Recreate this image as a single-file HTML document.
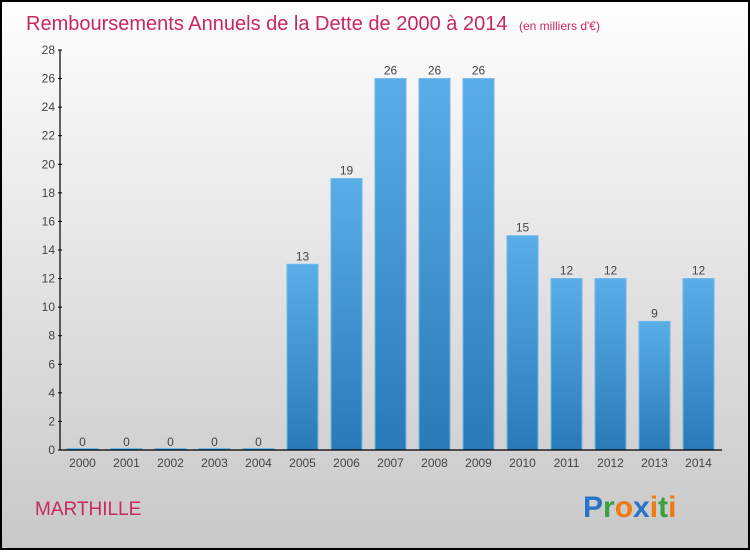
<!DOCTYPE html>
<html><head><meta charset="utf-8"><style>
body{margin:0;width:750px;height:550px;overflow:hidden;font-family:"Liberation Sans",sans-serif}
</style></head><body>
<svg width="750" height="550" xmlns="http://www.w3.org/2000/svg">
<defs>
<linearGradient id="bg" x1="0" y1="0" x2="0" y2="1"><stop offset="0" stop-color="#fefefe"/><stop offset="1" stop-color="#c8c8c8"/></linearGradient>
<linearGradient id="bar" x1="0" y1="0" x2="0" y2="1"><stop offset="0" stop-color="#5aade6"/><stop offset="1" stop-color="#2a7ab8"/></linearGradient>
</defs>
<rect x="1" y="1" width="748" height="548" fill="url(#bg)" stroke="#000" stroke-width="2"/>
<text x="26" y="30" font-size="20" fill="#c8285a">Remboursements Annuels de la Dette de 2000 à 2014 <tspan font-size="12" dx="6">(en milliers d'€)</tspan></text>
<g id="plot"></g>
<text x="35" y="515" font-size="19" fill="#c8285a">MARTHILLE</text>
<g font-size="30" font-weight="bold" font-family="'Liberation Sans',sans-serif">
<text x="583" y="517"><tspan fill="#2a74c8">P</tspan><tspan fill="#3aa040">r</tspan><tspan fill="#f07a10">o</tspan><tspan fill="#2a74c8">x</tspan><tspan fill="#f07a10">i</tspan><tspan fill="#3aa040">t</tspan><tspan fill="#f07a10">i</tspan></text>
</g>
</svg>
<script>
const years=["2000","2001","2002","2003","2004","2005","2006","2007","2008","2009","2010","2011","2012","2013","2014"];
const values=[0,0,0,0,0,13,19,26,26,26,15,12,12,9,12];
const yTicks=[0,2,4,6,8,10,12,14,16,18,20,22,24,26,28];
const NS="http://www.w3.org/2000/svg";
const g=document.getElementById('plot');
const x0=60.5,band=44,bw=31,yBase=450,yTop=50,yMax=28;
const y=v=>yBase-(v/yMax)*(yBase-yTop);
function mk(t,a,txt){const e=document.createElementNS(NS,t);for(const k in a)e.setAttribute(k,a[k]);if(txt!==undefined)e.textContent=txt;g.appendChild(e);return e;}
values.forEach((v,i)=>{
  const bx=x0+i*band+6.5;
  const h=Math.max(yBase-y(v),1.5);
  const r=mk('rect',{x:bx,y:yBase-h,width:bw,height:h,fill:'url(#bar)',stroke:'#6bb8ea','stroke-width':1});
  
  
  const t=mk('text',{x:bx+bw/2,y:y(v)-4,'font-size':12,fill:'#444','text-anchor':'middle'},String(v));
  
  
  const xl=mk('text',{x:bx+bw/2,y:467,'font-size':12,fill:'#444','text-anchor':'middle'},years[i]);
  
  
});
yTicks.forEach(v=>{
  const t=mk('text',{x:55,y:y(v)+4,'font-size':12,fill:'#444','text-anchor':'end'},String(v));
  
  
  const l=mk('line',{x1:58,x2:62,y1:y(v),y2:y(v),stroke:'#000'});
  
  
});
const ya=mk('line',{x1:60,x2:60,y1:yTop,y2:yBase,stroke:'#000','stroke-width':1.2});


const xa=mk('line',{x1:60,x2:722,y1:yBase,y2:yBase,stroke:'#000','stroke-width':1.2});


</script>
</body></html>
